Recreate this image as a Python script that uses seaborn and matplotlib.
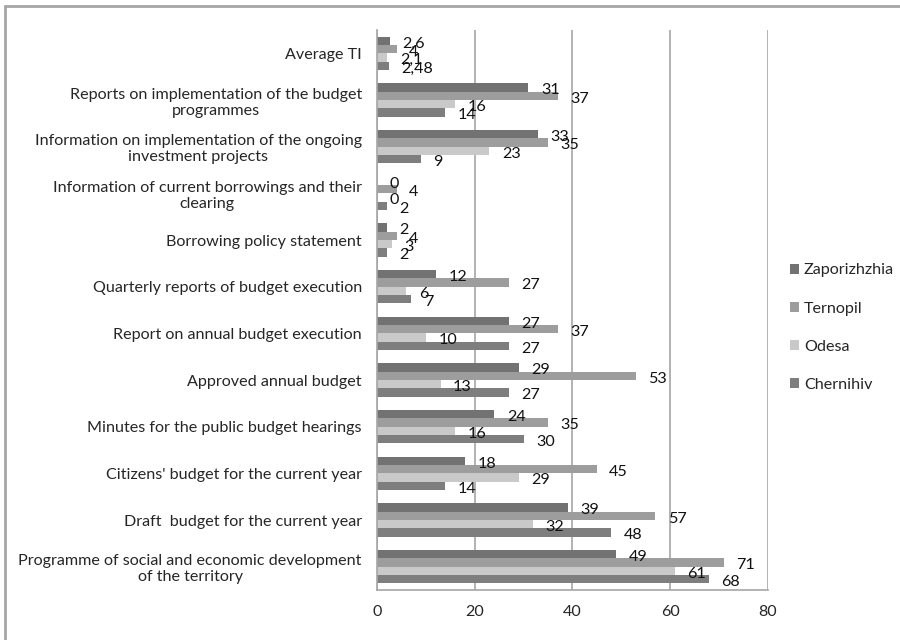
import numpy as np
import pandas as pd
import seaborn as sns
import matplotlib.pyplot as plt
from matplotlib.lines import Line2D

# Data
categories = [
    "Average TI",
    "Reports on implementation of the budget\nprogrammes",
    "Information on implementation of the ongoing\ninvestment projects",
    "Information of current borrowings and their\nclearing",
    "Borrowing policy statement",
    "Quarterly reports of budget execution",
    "Report on annual budget execution",
    "Approved annual budget",
    "Minutes for the public budget hearings",
    "Citizens' budget for the current year",
    "Draft  budget for the current year",
    "Programme of social and economic development\nof the territory",
]
zaporizhzhia = [2.6, 31, 33, 0, 2, 12, 27, 29, 24, 18, 39, 49]
ternopil = [4, 37, 35, 4, 4, 27, 37, 53, 35, 45, 57, 71]
odesa = [2.1, 16, 23, 0, 3, 6, 10, 13, 16, 29, 32, 61]
chernihiv = [2.48, 14, 9, 2, 2, 7, 27, 27, 30, 14, 48, 68]
regions = ["Zaporizhzhia", "Ternopil", "Odesa", "Chernihiv"]
colors = ["#727272", "#9d9d9d", "#c9c9c9", "#7e7e7e"]

df = pd.DataFrame({
    "category": categories * 4,
    "region": np.repeat(regions, len(categories)),
    "value": zaporizhzhia + ternopil + odesa + chernihiv,
})

FS = 11.6

sns.set_style("white")
plt.rcParams["font.family"] = ["Lato", "DejaVu Sans"]
plt.rcParams["font.size"] = FS

fig = plt.figure(figsize=(9, 6.4), dpi=100)
ax = fig.add_axes([0.419, 0.078, 0.434, 0.875])

sns.barplot(data=df, y="category", x="value", hue="region",
            order=categories, hue_order=regions, palette=colors,
            width=0.714, saturation=1, linewidth=0, ax=ax, legend=True)

# data labels with comma decimals, sitting a touch below the bar centre
for cont in ax.containers:
    labels = [f"{bar.get_width():g}".replace(".", ",") for bar in cont]
    texts = ax.bar_label(cont, labels=labels, padding=9, fontsize=FS, color="#111111")
    for t in texts:
        x, y = t.xyann
        t.xyann = (x, y - 2)

ax.set_xlim(0, 80)
ax.set_xticks([0, 20, 40, 60, 80])
ax.set_ylim(len(categories) - 0.5, -0.5)
ax.xaxis.grid(True, color="#a6a6a6", linewidth=1.2)
ax.set_axisbelow(True)
ax.set_xlabel("")
ax.set_ylabel("")

for s in ["top", "right"]:
    ax.spines[s].set_visible(False)
for s in ["left", "bottom"]:
    ax.spines[s].set_color("#a6a6a6")
    ax.spines[s].set_linewidth(1.2)

ax.tick_params(axis="x", length=5, color="#a6a6a6", width=1.2, pad=6, labelsize=FS)
ax.tick_params(axis="y", which="major", length=0, pad=11, labelsize=FS)
ax.set_yticks(np.arange(-0.5, len(categories), 1), minor=True)
ax.tick_params(axis="y", which="minor", length=5, color="#a6a6a6", width=1.2)
for t in ax.get_yticklabels():
    t.set_multialignment("center")

leg = ax.legend(loc="center left", bbox_to_anchor=(0.862, 0.488),
                bbox_transform=fig.transFigure, frameon=False,
                handlelength=0.55, handleheight=0.55, handletextpad=0.3,
                labelspacing=1.5, fontsize=FS)

# outer chart border (top and left edges only)
fig.add_artist(Line2D([0.006, 1.0], [0.99, 0.99], color="#a6a6a6", linewidth=2,
                      transform=fig.transFigure))
fig.add_artist(Line2D([0.006, 0.006], [0.0, 0.99], color="#a6a6a6", linewidth=2,
                      transform=fig.transFigure))

plt.savefig("out.png", dpi=100)
